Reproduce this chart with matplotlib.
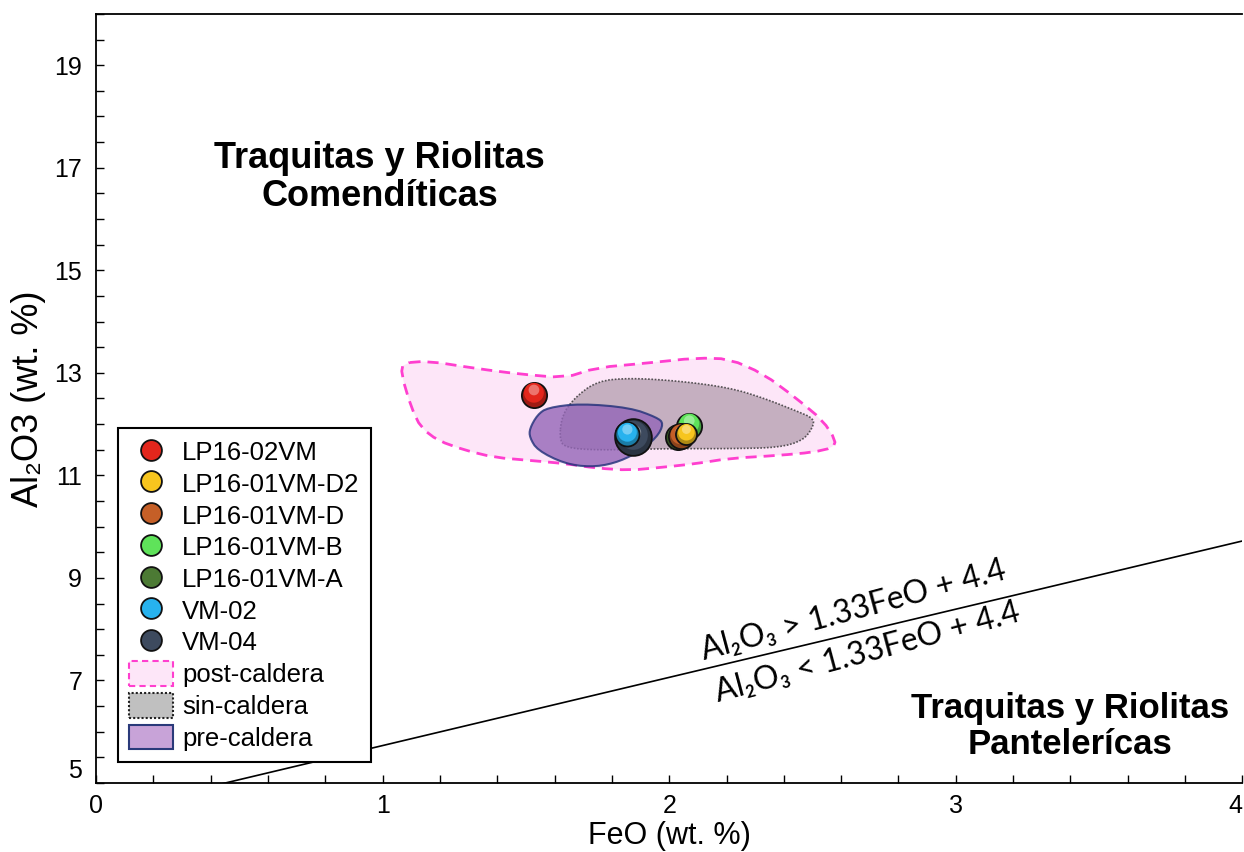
import matplotlib
matplotlib.use("Agg")
import numpy as np
import matplotlib.pyplot as plt
import matplotlib.colors as mcolors
import matplotlib.transforms as mtransforms
from matplotlib.patches import Polygon, Patch
from matplotlib.lines import Line2D
from matplotlib.ticker import MultipleLocator

plt.rcParams['font.family'] = ['Liberation Sans', 'DejaVu Sans']

# ---- data ----
samples = ["LP16-02VM", "LP16-01VM-D2", "LP16-01VM-D", "LP16-01VM-B",
           "LP16-01VM-A", "VM-02", "VM-04"]
feo = [1.528, 2.060, 2.040, 2.070, 2.030, 1.854, 1.875]
al2o3 = [12.57, 11.80, 11.76, 11.97, 11.74, 11.80, 11.74]
colors = ["#e3261c", "#f7c51e", "#c55f27", "#5fe35a", "#4c7a34", "#27b2ee", "#3d4a5e"]
sizes = [330, 230, 330, 330, 330, 300, 700]
zorders = [6, 9, 8, 6, 7, 7, 6]

post_feo = [1.072, 1.159, 1.332, 1.471, 1.634, 1.748, 1.922, 2.095, 2.210, 2.328,
            2.442, 2.536, 2.581, 2.571, 2.501, 2.383, 2.210, 2.095, 1.981, 1.863,
            1.748, 1.634, 1.516, 1.391, 1.287, 1.193, 1.134, 1.100, 1.065]
post_al = [13.19, 13.23, 13.08, 12.98, 12.90, 13.10, 13.19, 13.29, 13.27, 12.98,
           12.51, 12.07, 11.68, 11.54, 11.45, 11.39, 11.33, 11.23, 11.16, 11.10,
           11.14, 11.23, 11.29, 11.35, 11.49, 11.68, 11.93, 12.32, 12.98]

sin_feo = [1.617, 1.626, 1.669, 1.748, 1.863, 2.036, 2.210, 2.328, 2.442, 2.505,
           2.501, 2.467, 2.383, 2.210, 1.981, 1.748, 1.634]
sin_al = [11.74, 12.17, 12.51, 12.84, 12.90, 12.84, 12.71, 12.51, 12.26, 12.11,
          11.93, 11.68, 11.54, 11.52, 11.52, 11.49, 11.54]

pre_feo = [1.513, 1.540, 1.575, 1.690, 1.863, 1.957, 1.981, 1.957, 1.887, 1.807,
           1.724, 1.634, 1.540, 1.513]
pre_al = [11.91, 12.18, 12.32, 12.40, 12.32, 12.13, 12.01, 11.74, 11.43, 11.23,
          11.16, 11.23, 11.49, 11.74]

line_slope = 1.33
line_intercept = 4.4
line_feo = [0.0, 4.0]

x_ticks = [0, 1, 2, 3, 4]
y_ticks = [5, 7, 9, 11, 13, 15, 17, 19]


def rounded(xs, ys, passes=2):
    """Chaikin corner rounding of a closed outline (drawing only)."""
    pts = np.column_stack([xs, ys]).astype(float)
    for _ in range(passes):
        nxt = np.roll(pts, -1, axis=0)
        q = 0.75 * pts + 0.25 * nxt
        r = 0.25 * pts + 0.75 * nxt
        pts = np.empty((2 * len(q), 2))
        pts[0::2] = q
        pts[1::2] = r
    return pts


def shade(c, f):
    r, g, b = mcolors.to_rgb(c)
    if f < 1:
        return (r * f, g * f, b * f)
    return (r + (1 - r) * (f - 1), g + (1 - g) * (f - 1), b + (1 - b) * (f - 1))


# ---- figure ----
fig = plt.figure(figsize=(12.44, 8.52), dpi=100)
ax = fig.add_axes([0.0772, 0.081, 0.9215, 0.9027])
ax.set_xlim(0, 4)
ax.set_ylim(5, 20)

# regions
post = Polygon(rounded(post_feo, post_al, 1), closed=True, facecolor="#fde6f8",
               edgecolor="#ff3fcf", linestyle=(0, (4, 2.5)), linewidth=2.0,
               joinstyle="round", zorder=2)
ax.add_patch(post)
sin = Polygon(rounded(sin_feo, sin_al), closed=True, facecolor="#b8a2b2",
              alpha=0.8, edgecolor="#333333", linestyle=(0, (1, 1)), linewidth=1.2,
              zorder=3)
ax.add_patch(sin)
pre = Polygon(rounded(pre_feo, pre_al), closed=True, facecolor="#9466b8",
              alpha=0.8, edgecolor="#1f2f78", linewidth=1.5, joinstyle="round",
              zorder=4)
ax.add_patch(pre)

# discriminant line
ys = [line_slope * x + line_intercept for x in line_feo]
ax.plot(line_feo, ys, color="black", linewidth=1.2, zorder=1)

# samples (sphere-like shading)
up2 = mtransforms.offset_copy(ax.transData, fig=fig, x=0, y=1.5, units="points")
up5 = mtransforms.offset_copy(ax.transData, fig=fig, x=0, y=3.5, units="points")
for name, x, y, c, s, z in zip(samples, feo, al2o3, colors, sizes, zorders):
    ax.scatter([x], [y], s=s, color=shade(c, 0.7), edgecolor="#111111",
               linewidth=1.3, zorder=z)
    ax.scatter([x], [y], s=s * 0.62, color=c, edgecolor="none",
               transform=up2, zorder=z + 0.1)
    ax.scatter([x], [y], s=s * 0.18, color=shade(c, 1.45), edgecolor="none",
               alpha=0.8, transform=up5, zorder=z + 0.2)

# ticks
ax.set_xticks(x_ticks)
ax.xaxis.set_minor_locator(MultipleLocator(0.2))
ax.set_yticks(y_ticks)
ax.yaxis.set_minor_locator(MultipleLocator(0.5))
ax.tick_params(which="both", direction="in", length=6, width=1.0, labelsize=18,
               top=False, right=False)
ax.tick_params(axis="x", pad=8)
ax.tick_params(axis="y", pad=10)
for sp in ax.spines.values():
    sp.set_linewidth(1.3)
ax.spines["right"].set_visible(False)
xl = ax.get_xticklabels()
xl[-1].set_horizontalalignment("right")
yl = ax.get_yticklabels()
yl[0].set_verticalalignment("bottom")

ax.set_xlabel("FeO (wt. %)", fontsize=22, labelpad=2)
ax.set_ylabel("Al\u2082O3 (wt. %)", fontsize=26, labelpad=6)

# region labels
ax.text(0.99, 16.81, "Traquitas y Riolitas\nComendíticas", fontsize=26,
        fontweight="bold", ha="center", va="center", linespacing=1.12)
ax.text(3.40, 6.11, "Traquitas y Riolitas\nPantelerícas", fontsize=25,
        fontweight="bold", ha="center", va="center", linespacing=1.12)

lab_font = ["Lato", "DejaVu Sans"]
ax.text(2.12, 7.40, "Al\u2082O\u2083 > 1.33FeO + 4.4", fontsize=23, rotation=15,
        rotation_mode="anchor", ha="left", va="baseline", family=lab_font)
ax.text(2.17, 6.57, "Al\u2082O\u2083 < 1.33FeO + 4.4", fontsize=23, rotation=15,
        rotation_mode="anchor", ha="left", va="baseline", family=lab_font)

# legend
handles = [Line2D([], [], marker="o", linestyle="none", markersize=15,
                  markerfacecolor=c, markeredgecolor="#111111", markeredgewidth=1.3)
           for c in colors]
handles += [
    Patch(facecolor="#fde6f8", edgecolor="#ff3fcf", linestyle=(0, (3, 2)), linewidth=1.5),
    Patch(facecolor="#c0c0c0", edgecolor="#222222", linestyle=(0, (1, 1)), linewidth=1.5),
    Patch(facecolor="#c8a3d8", edgecolor="#2a3a7a", linewidth=1.5),
]
labels = samples + ["post-caldera", "sin-caldera", "pre-caldera"]
leg = ax.legend(handles, labels, loc="lower left", bbox_to_anchor=(0.019, 0.027),
                borderaxespad=0, fontsize=18.5, frameon=True, fancybox=False,
                edgecolor="black", framealpha=1, labelspacing=0.22,
                handlelength=1.7, handleheight=1.1, handletextpad=0.35,
                borderpad=0.45)
leg.get_frame().set_linewidth(1.5)
leg.set_zorder(10)

fig.savefig("out.png", dpi=100)
